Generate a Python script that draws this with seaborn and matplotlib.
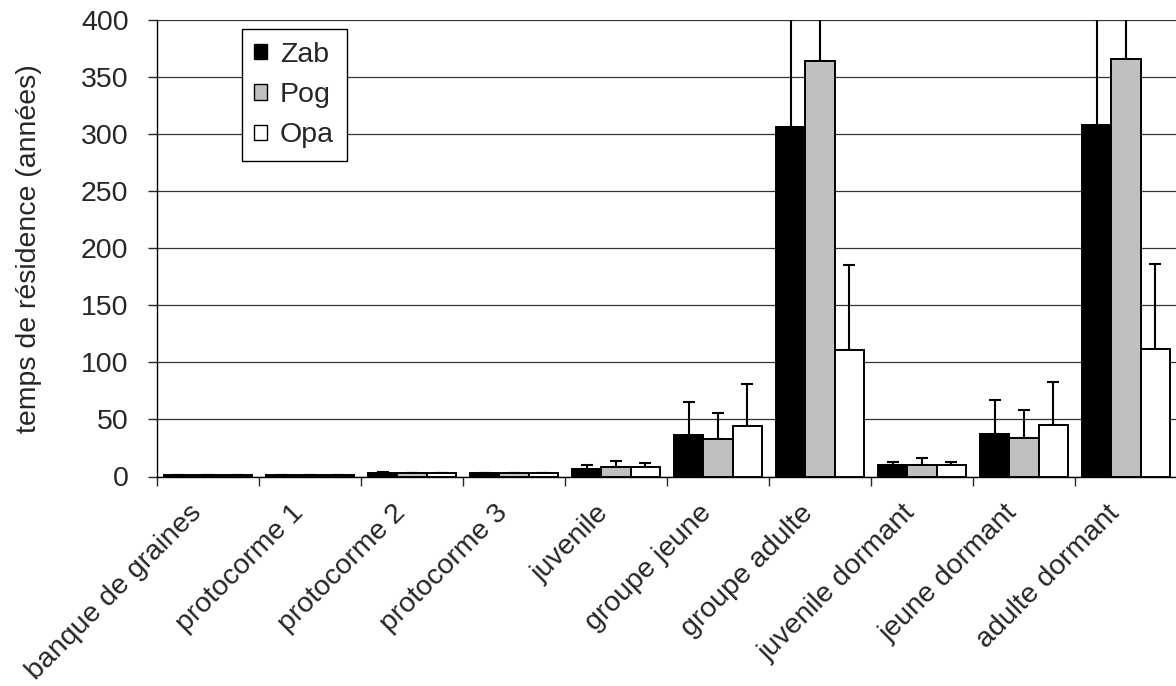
import numpy as np
import pandas as pd
import matplotlib
matplotlib.use('Agg')
import matplotlib.pyplot as plt
import matplotlib.transforms as mtransforms
import seaborn as sns
from matplotlib.ticker import MultipleLocator

# --- données ---
stades = ['banque de graines', 'protocorme 1', 'protocorme 2', 'protocorme 3', 'juvenile',
          'groupe jeune', 'groupe adulte', 'juvenile dormant', 'jeune dormant', 'adulte dormant']
populations = ['Zab', 'Pog', 'Opa']

zab = [1.2, 1.2, 3.5, 3.0, 7.0, 36.0, 306.5, 10.0, 37.5, 308.0]
pog = [1.2, 1.2, 3.0, 3.0, 8.5, 32.5, 364.5, 10.0, 34.0, 366.0]
opa = [1.2, 1.2, 3.0, 3.0, 8.0, 44.0, 110.5, 10.0, 45.5, 112.0]

# erreurs (vers le haut seulement)
zab_err = [0.3, 0.3, 0.5, 0.5, 3.0, 29.0, 300.0, 3.0, 29.5, 300.0]
pog_err = [0.3, 0.3, 0.5, 0.5, 5.0, 23.0, 300.0, 6.5, 24.5, 300.0]
opa_err = [0.3, 0.3, 0.5, 0.5, 3.5, 37.0, 74.5, 3.0, 37.5, 74.5]

couleurs = ['#000000', '#C0C0C0', '#FFFFFF']

df = pd.DataFrame({
    'stade': stades * 3,
    'population': [p for p in populations for _ in stades],
    'valeur': zab + pog + opa,
})
erreurs = {'Zab': zab_err, 'Pog': pog_err, 'Opa': opa_err}

sns.set_style('white')
plt.rcParams['font.family'] = ['Liberation Sans', 'DejaVu Sans']
taille = 20.5

fig = plt.figure(figsize=(11.76, 6.86), dpi=100)
ax = fig.add_axes([157 / 1176, (686 - 476.5) / 686, 1020 / 1176, 456.5 / 686])

sns.barplot(data=df, x='stade', y='valeur', hue='population', order=stades,
            hue_order=populations, palette=couleurs, width=0.86, gap=0,
            edgecolor='black', linewidth=1.4, errorbar=None, ax=ax, zorder=3)

# barres d'erreur au-dessus de chaque barre
for cont, pop in zip(ax.containers, populations):
    xs = [b.get_x() + b.get_width() / 2 for b in cont]
    hs = [b.get_height() for b in cont]
    ax.errorbar(xs, hs, yerr=[np.zeros(len(hs)), erreurs[pop]], fmt='none',
                ecolor='black', elinewidth=1.5, capsize=4, capthick=1.5, zorder=2)

ax.set_ylim(0, 400)
ax.set_xlim(-0.5, 9.5)
ax.yaxis.set_major_locator(MultipleLocator(50))
ax.grid(axis='y', color='#333333', linewidth=0.9, zorder=0)
ax.set_axisbelow(True)

for s in ['top', 'right']:
    ax.spines[s].set_visible(False)
ax.spines['left'].set_color('black')
ax.spines['left'].set_linewidth(1.0)
ax.spines['bottom'].set_color('black')
ax.spines['bottom'].set_linewidth(1.0)

ax.tick_params(axis='y', direction='out', length=6.5, width=1, left=True,
               labelsize=taille, pad=14)
ax.set_xticks(range(len(stades)))
ax.set_xticklabels(stades, rotation=45, ha='right', va='top', rotation_mode='anchor',
                   fontsize=taille)
ax.tick_params(axis='x', which='major', length=0, pad=17)
decalage = mtransforms.ScaledTranslation(-20 / 100, 0, fig.dpi_scale_trans)
for lab in ax.get_xticklabels():
    lab.set_transform(lab.get_transform() + decalage)
ax.set_xticks(np.arange(-0.5, 9.6, 1), minor=True)
ax.tick_params(axis='x', which='minor', direction='out', length=6.5, width=1, bottom=True)

ax.set_xlabel('')
ax.set_ylabel('temps de résidence (années)', fontsize=taille)
ax.yaxis.set_label_coords(-0.113, 0.5)

leg = ax.legend(loc='upper left', bbox_to_anchor=(0.083, 0.98), fontsize=taille, frameon=True,
                fancybox=False, edgecolor='black', framealpha=1, handlelength=0.45,
                handleheight=0.45, handletextpad=0.45, borderpad=0.45, labelspacing=0.5,
                borderaxespad=0)
leg.get_frame().set_linewidth(1.0)
for h in leg.legend_handles:
    h.set_edgecolor('black')
    h.set_linewidth(1.0)

fig.savefig('out.png', dpi=100)
